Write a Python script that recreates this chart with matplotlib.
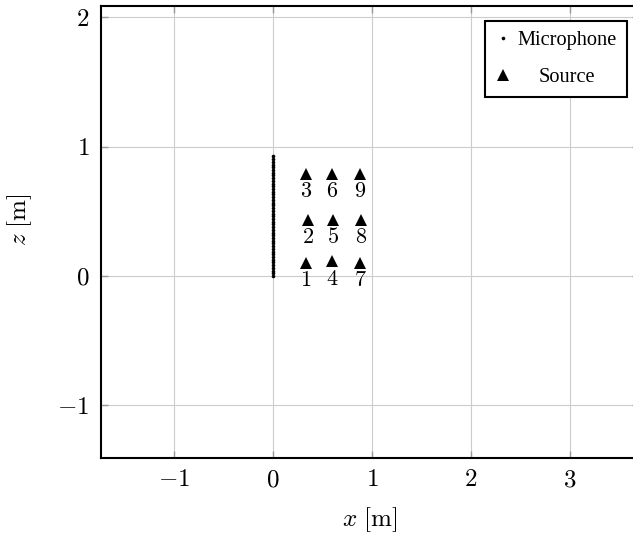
import matplotlib
matplotlib.use('Agg')
import matplotlib.pyplot as plt

# microphone array along z at x = 0
mic_x = [0.0] * 45
mic_z = [0.000, 0.021, 0.042, 0.063, 0.084, 0.105, 0.126, 0.147, 0.168,
         0.189, 0.210, 0.231, 0.252, 0.273, 0.294, 0.315, 0.336, 0.357,
         0.378, 0.399, 0.420, 0.441, 0.462, 0.483, 0.504, 0.525, 0.546,
         0.567, 0.588, 0.609, 0.630, 0.651, 0.672, 0.693, 0.714, 0.735,
         0.756, 0.777, 0.798, 0.819, 0.840, 0.861, 0.882, 0.903, 0.924]

# source positions and their numbers
src_id = [1, 2, 3, 4, 5, 6, 7, 8, 9]
src_x = [0.33, 0.35, 0.33, 0.60, 0.61, 0.60, 0.88, 0.89, 0.88]
src_z = [0.104, 0.433, 0.789, 0.112, 0.436, 0.789, 0.104, 0.433, 0.789]

x_ticks = [-1, 0, 1, 2, 3]
z_ticks = [-1, 0, 1, 2]

plt.rcParams['mathtext.fontset'] = 'cm'
plt.rcParams['font.family'] = 'serif'
plt.rcParams['font.serif'] = ['Liberation Serif', 'DejaVu Serif']

fig = plt.figure(figsize=(6.33, 5.34), dpi=100)
ax = fig.add_axes([0.159, 0.1423, 0.8505, 0.8465])

ax.plot(mic_x, mic_z, 'o', color='black', ms=2.6, mew=0, ls='none',
        label='Microphone', zorder=3)
ax.plot(src_x, src_z, '^', color='black', ms=8, mew=0, ls='none',
        label='Source', zorder=3)
for n, x, z in zip(src_id, src_x, src_z):
    ax.annotate(f'${n}$', (x, z), xytext=(0, -13.5), textcoords='offset points',
                ha='center', va='center', fontsize=16)

ax.set_xlim(-1.742, 3.70)
ax.set_ylim(-1.408, 2.088)
ax.set_xticks(x_ticks)
ax.set_yticks(z_ticks)
ax.set_xticklabels([f'${t}$' for t in x_ticks])
ax.set_yticklabels([f'${t}$' for t in z_ticks])
ax.tick_params(direction='in', length=5, width=1.0, color='#999999',
               labelsize=18, top=True, right=True, pad=8)
ax.grid(True, color='#cccccc', lw=0.8)
ax.set_axisbelow(True)

for side in ['left', 'bottom', 'top']:
    ax.spines[side].set_linewidth(1.5)
ax.spines['right'].set_visible(False)

ax.set_xlabel(r'$x\ [\mathrm{m}]$', fontsize=18)
ax.set_ylabel(r'$z\ [\mathrm{m}]$', fontsize=18)
ax.xaxis.set_label_coords(0.5, -0.104)
ax.yaxis.set_label_coords(-0.124, 0.527)

leg = ax.legend(loc='upper right', bbox_to_anchor=(627 / 633, 1 - 21 / 534),
                bbox_transform=fig.transFigure, borderaxespad=0,
                fancybox=False, edgecolor='black', framealpha=1,
                fontsize=14.7, numpoints=1, handlelength=0.8,
                handletextpad=0.3, labelspacing=0.85, borderpad=0.5)
leg.get_frame().set_linewidth(1.5)

# center the legend entries within their column
fig.canvas.draw()
renderer = fig.canvas.get_renderer()
texts = leg.get_texts()
widths = [t.get_window_extent(renderer).width for t in texts]
wmax = max(widths)
for t, w in zip(texts, widths):
    t.set_x((wmax - w) / 2)

fig.savefig('out.png', dpi=100)
